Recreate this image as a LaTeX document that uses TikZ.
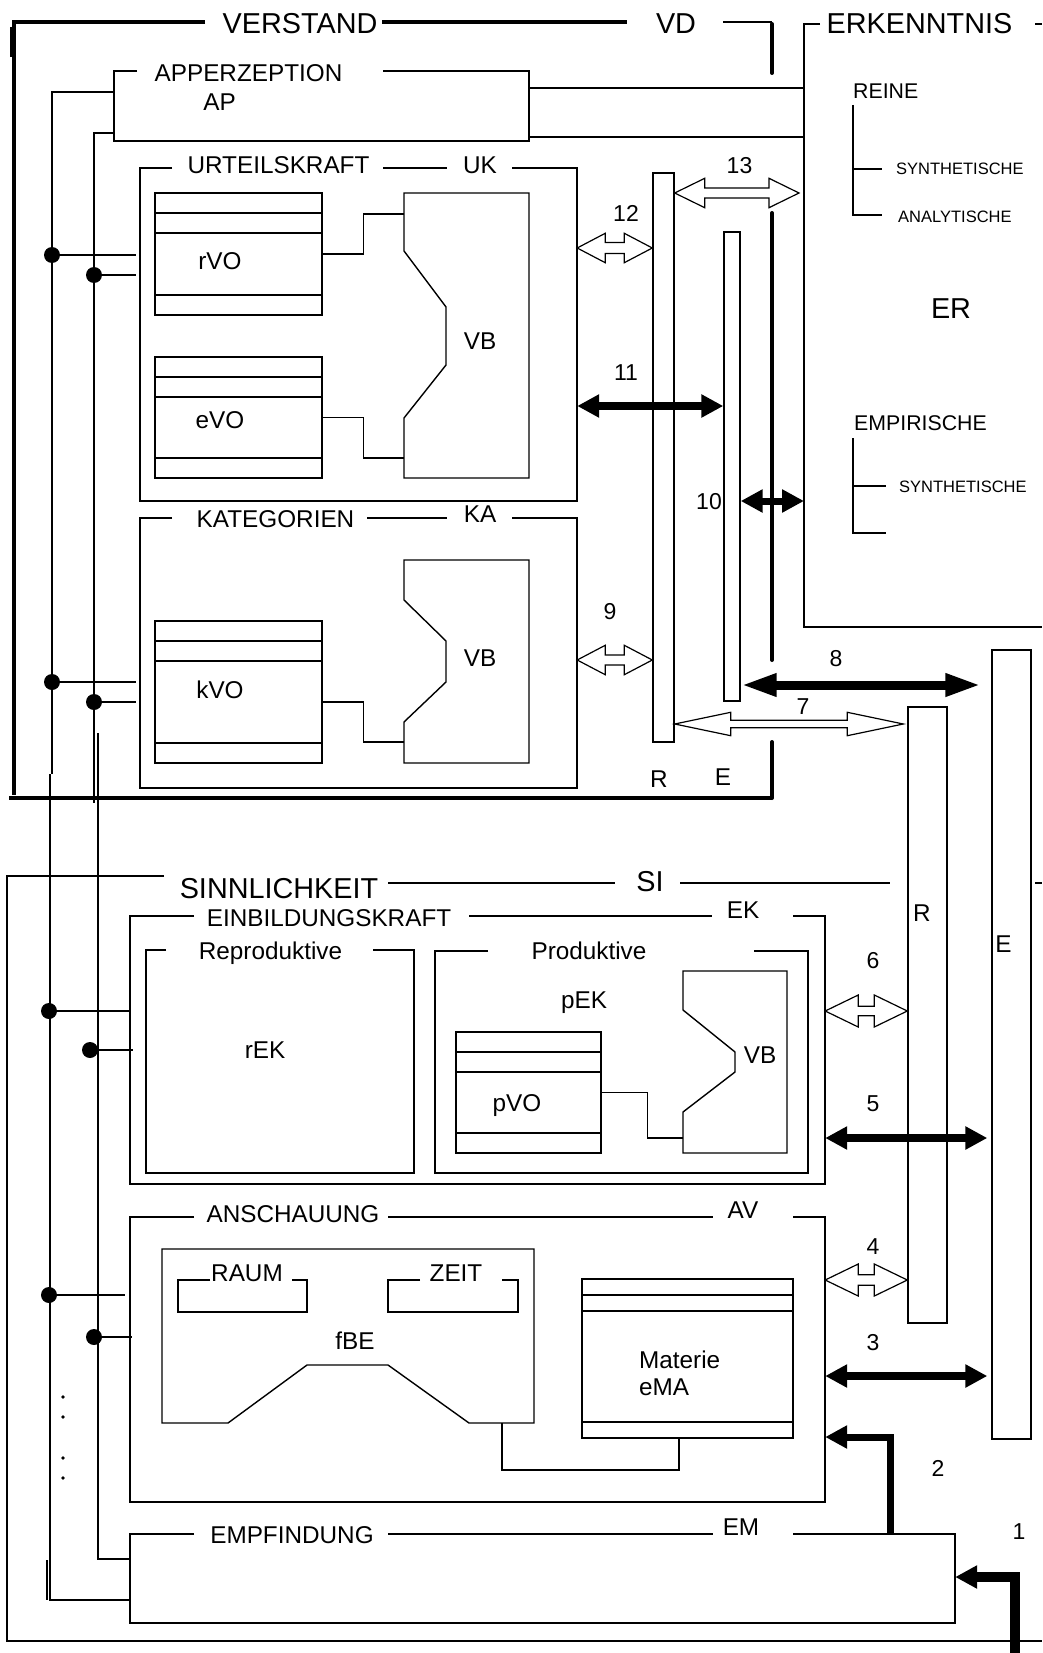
\documentclass[tikz,border=0pt]{standalone}
\usepackage{fontspec}
\setmainfont{Liberation Sans}
\usetikzlibrary{arrows.meta,fit,calc}

% VB block with its notch on the left side
\newcommand{\vbshape}[9]{%
	\draw[thinline] (#3,#2) -- (#1,#2) -- (#1,#5) -- (#9,#6) -- (#9,#7) -- (#1,#8) -- (#1,#4) -- (#3,#4) -- cycle;
}
% hollow double arrow: from, to, head length, head half width, shaft half width
\newcommand{\hollowarrow}[5]{%
	\draw[hollow] let \p1=(#1), \p2=(#2) in
	(\x1,\y1) -- (\x1+#3pt,\y1+#4pt) -- (\x1+#3pt,\y1+#5pt) -- (\x2-#3pt,\y1+#5pt)
	-- (\x2-#3pt,\y1+#4pt) -- (\x2,\y1) -- (\x2-#3pt,\y1-#4pt) -- (\x2-#3pt,\y1-#5pt)
	-- (\x1+#3pt,\y1-#5pt) -- (\x1+#3pt,\y1-#4pt) -- cycle;
}
% box with a gap in its top line for the title
\newcommand{\titledbox}[7]{%
	\node[fit={(#2,#3) (#4,#5)}, inner sep=0pt] (#1) {};
	\draw[thinline] (#6,#3) -- (#2,#3) -- (#2,#5) -- (#4,#5) -- (#4,#3) -- (#7,#3);
}

\begin{document}
\begin{tikzpicture}[
		x=1pt, y=-1pt,
		line join=miter,
		thinline/.style={line width=1.4pt},
		frame/.style={line width=4pt},
		stub/.style={line width=4pt, line cap=round},
		bar/.style={draw, line width=1.4pt, inner sep=0pt},
		hollow/.style={draw, fill=white, line width=1.2pt},
		vo/.style={draw, line width=1.4pt, inner sep=0pt, path picture={
				\draw[line width=1.4pt]
				([yshift=-#1pt]path picture bounding box.north west) -- ([yshift=-#1pt]path picture bounding box.north east)
				([yshift=-2*#1pt]path picture bounding box.north west) -- ([yshift=-2*#1pt]path picture bounding box.north east)
				([yshift=#1pt]path picture bounding box.south west) -- ([yshift=#1pt]path picture bounding box.south east);
		}},
		vo/.default=20,
		Head/.tip={Triangle[length=22pt, width=22pt]},
		LongHead/.tip={Triangle[length=36pt, width=21pt]},
		blk/.style={line width=#1},
		blk/.default=8pt,
		big/.style={font=\fontsize{28.8}{33}\selectfont, text height=20.6pt, text depth=0pt, inner sep=0pt},
		lab/.style={font=\fontsize{24.3}{28}\selectfont, text height=17.4pt, text depth=0pt, inner sep=0pt},
		num/.style={font=\fontsize{23}{27}\selectfont, text height=16.5pt, text depth=0pt, inner sep=0pt},
		mid/.style={font=\fontsize{21.3}{25}\selectfont, text height=15.2pt, text depth=0pt, inner sep=0pt},
		sml/.style={font=\fontsize{16.5}{20}\selectfont, text height=11.8pt, text depth=0pt, inner sep=0pt}
	]
	\useasboundingbox (0,0) rectangle (1042,1653);
	
	% Verstand frame
	\draw[frame] (205,22) -- (14,22) -- (14,795);
	\draw[frame] (382,22) -- (627,22);
	\draw[thinline] (723,22) -- (772,22);
	\draw[stub] (772,24) -- (772,73);
	\draw[stub] (772,213) -- (772,660);
	\draw[frame] (9,798) -- (772,798);
	\draw[stub] (772,798) -- (772,742);
	\draw[thinline] (11,27) -- (11,57);
	\node[big] (verstand) at (300,23) {VERSTAND};
	\node[big] (vd) at (676,23) {VD};
	
	% Erkenntnis frame
	\draw[thinline] (820,24) -- (804,24) -- (804,627) -- (1042,627);
	\draw[thinline] (1035,24) -- (1042,24);
	\coordinate (erkw) at (804,24);
	\node[big] (erkenntnis) at (919.5,23) {ERKENNTNIS};
	\node[mid, anchor=west] (reine) at (853,90.5) {REINE};
	\draw[thinline] (853,105) -- (853,215) -- (882,215);
	\draw[thinline] (853,169) -- (882,169);
	\node[sml, anchor=west] (syna) at (896,169) {SYNTHETISCHE};
	\node[sml, anchor=west] (ana) at (898,217) {ANALYTISCHE};
	\node[big] (er) at (951,308) {ER};
	\node[mid, anchor=west] (empir) at (854,423) {EMPIRISCHE};
	\draw[thinline] (853,438) -- (853,533) -- (886,533);
	\draw[thinline] (853,486) -- (886,486);
	\node[sml, anchor=west] (synb) at (899,487) {SYNTHETISCHE};
	
	% Apperzeption
	\titledbox{ap}{114}{71}{529}{141}{137}{383}
	\node[lab] (apperz) at (248.5,73) {APPERZEPTION};
	\node[lab] (apl) at (219.5,102) {AP};
	\draw[thinline] (ap.east |- 0,88) -- (erkw |- 0,88);
	\draw[thinline] (ap.east |- 0,137) -- (erkw |- 0,137);
	
	% Urteilskraft
	\titledbox{uk}{140}{168}{577}{501}{172}{512}
	\draw[thinline] (383,168) -- (447,168);
	\node[lab] (urteil) at (278.5,165) {URTEILSKRAFT};
	\node[lab] (ukl) at (480,165) {UK};
	\node[vo, fit={(155,193) (322,315)}] (rvo) {};
	\node[vo, fit={(155,357) (322,478)}] (evo) {};
	\node[lab] (rvol) at (220,261) {rVO};
	\node[lab] (evol) at (220,420) {eVO};
	\vbshape{404}{193}{529}{478}{251}{307}{365}{418}{446}
	\node[lab] (vba) at (480,341) {VB};
	\coordinate (vbain) at (404,214);
	\coordinate (vbaout) at (404,458);
	\draw[thinline] (rvo.east) -- ++(41,0) |- (vbain);
	\draw[thinline] (evo.east) -- ++(41,0) |- (vbaout);
	
	% Kategorien
	\titledbox{ka}{140}{518}{577}{788}{172}{512}
	\draw[thinline] (367,518) -- (447,518);
	\node[lab] (kateg) at (275.5,519) {KATEGORIEN};
	\node[lab] (kal) at (480,514) {KA};
	\node[vo, fit={(155,621) (322,763)}] (kvo) {};
	\node[lab] (kvol) at (220,690) {kVO};
	\vbshape{404}{560}{529}{763}{600}{641}{682}{722}{446}
	\node[lab] (vbb) at (480,658) {VB};
	\coordinate (vbbin) at (404,742);
	\draw[thinline] ([yshift=-10pt]kvo.east) -- ++(41,0) |- (vbbin);
	
	% R and E bars of the Verstand
	\node[bar, fit={(653,173) (674,742)}] (rsup) {};
	\node[bar, fit={(724,232) (740,701)}] (esup) {};
	\node[lab] (rl) at (659,779) {R};
	\node[lab] (el) at (723,777) {E};
	
	% Sinnlichkeit frame
	\draw[thinline] (164,876) -- (7,876) -- (7,1641) -- (1042,1641);
	\draw[thinline] (388,883) -- (615,883);
	\draw[thinline] (680,883) -- (890,883);
	\draw[thinline] (1035,883) -- (1042,883);
	\node[big] (sinnlich) at (279,888) {SINNLICHKEIT};
	\node[big] (si) at (650,881) {SI};
	
	% Einbildungskraft
	\titledbox{ek}{130}{916}{825}{1184}{194}{793}
	\draw[thinline] (469,916) -- (712,916);
	\node[lab] (einbild) at (329,918) {EINBILDUNGSKRAFT};
	\node[lab] (ekl) at (743,910) {EK};
	\titledbox{rep}{146}{950}{414}{1173}{166}{373}
	\node[lab] (reprod) at (270.5,951) {Reproduktive};
	\node[lab] (rek) at (265,1050) {rEK};
	\titledbox{prod}{435}{951}{808}{1173}{488}{754}
	\node[lab] (prodl) at (589,951) {Produktive};
	\node[lab] (pek) at (584,1000) {pEK};
	\node[vo, fit={(456,1032) (601,1153)}] (pvo) {};
	\node[lab] (pvol) at (517,1103) {pVO};
	\vbshape{683}{971}{787}{1153}{1010}{1052}{1072}{1112}{735}
	\node[lab] (vbc) at (760,1055) {VB};
	\coordinate (vbcin) at (683,1138);
	\draw[thinline] (pvo.east) -- ++(46,0) |- (vbcin);
	
	% Anschauung
	\titledbox{av}{130}{1217}{825}{1502}{194}{793}
	\draw[thinline] (388,1217) -- (713,1217);
	\node[lab] (anschau) at (293,1214) {ANSCHAUUNG};
	\node[lab] (avl) at (743,1210) {AV};
	\draw[thinline] (162,1249) -- (534,1249) -- (534,1423) -- (469,1423) -- (388,1365)
	-- (307,1365) -- (228,1423) -- (162,1423) -- cycle;
	\coordinate (fbeout) at (502,1423);
	\node[lab] (fbe) at (355,1341) {fBE};
	\draw[thinline] (210,1280) -- (178,1280) -- (178,1312) -- (307,1312) -- (307,1280) -- (292,1280);
	\draw[thinline] (420,1280) -- (388,1280) -- (388,1312) -- (518,1312) -- (518,1280) -- (502,1280);
	\node[lab] (raum) at (247,1273) {RAUM};
	\node[lab] (zeit) at (456,1273) {ZEIT};
	\node[vo=16, fit={(582,1279) (793,1438)}] (mat) {};
	\node[lab, anchor=west] (materie) at (639,1360) {Materie};
	\node[lab, anchor=west] (ema) at (639,1387) {eMA};
	\draw[thinline] (fbeout) -- ++(0,47) -| ([xshift=-8.5pt]mat.south);
	
	% Empfindung
	\titledbox{em}{130}{1534}{955}{1623}{194}{793}
	\draw[thinline] (388,1534) -- (713,1534);
	\node[lab] (empf) at (292,1535) {EMPFINDUNG};
	\node[lab] (eml) at (741,1527) {EM};
	
	% R and E bars of the Sinnlichkeit
	\node[bar, fit={(908,707) (947,1323)}] (rinf) {};
	\node[bar, fit={(992,650) (1031,1439)}] (einf) {};
	\node[lab] (rlow) at (922,913) {R};
	\node[lab] (elow) at (1003.5,944) {E};
	
	% Left bus lines
	\draw[thinline] (ap.west |- 0,92) -- (52,92) -- (52,774);
	\draw[thinline] (ap.west |- 0,133) -- (94,133) -- (94,803);
	\draw[thinline] (50,774) -- (50,1600) -- (em.west |- 0,1600);
	\draw[thinline] (98,733) -- (98,1559) -- (em.west |- 0,1559);
	\draw[thinline] (47,1560) -- (47,1600);
	\foreach \bx/\by/\ex in {52/255/136, 94/275/136, 52/682/136, 94/702/136,
		49/1011/130, 90/1050/133, 49/1295/125, 94/1337/132} {
		\draw[thinline] (\bx,\by) -- (\ex,\by);
		\fill (\bx,\by) circle (8pt);
	}
	\foreach \dy in {1397,1417,1458,1478} {
		\fill (63,\dy) circle (1.8pt);
	}
	
	% Exchanges 13 ... 7
	\hollowarrow{rsup.east |- 0,193}{[xshift=-5pt]erkw |- 0,193}{30}{14.7}{5}
	\hollowarrow{uk.east |- 0,248}{rsup.west |- 0,248}{28}{14.7}{5.5}
	\draw[blk, Head-Head] (uk.east |- 0,406) -- (esup.west |- 0,406);
	\draw[blk=7pt, Head-Head] (esup.east |- 0,501) -- (erkw |- 0,501);
	\hollowarrow{ka.east |- 0,660}{rsup.west |- 0,660}{28}{14.7}{5}
	\draw[blk=9pt, LongHead-LongHead] (esup.east |- 0,685) -- ([xshift=-10pt]einf.west |- 0,685);
	\hollowarrow{rsup.east |- 0,724}{[xshift=-4pt]rinf.west |- 0,724}{56}{11.7}{3.8}
	\node[num] (n13) at (739.5,165) {13};
	\node[num] (n12) at (626,213) {12};
	\node[num] (n11) at (626,372) {11};
	\node[num] (n10) at (709,501) {10};
	\node[num] (n9) at (610,611) {9};
	\node[num] (n8) at (836,658.5) {8};
	\node[num] (n7) at (803,706) {7};
	
	% Exchanges 6 ... 1
	\hollowarrow{ek.east |- 0,1011}{rinf.west |- 0,1011}{33}{16}{4.7}
	\draw[blk, Head-Head] (ek.east |- 0,1138) -- ([xshift=-4pt]einf.west |- 0,1138);
	\hollowarrow{av.east |- 0,1280}{rinf.west |- 0,1280}{33}{16}{5.3}
	\draw[blk, Head-Head] (av.east |- 0,1376) -- ([xshift=-4pt]einf.west |- 0,1376);
	\draw[blk=7pt, -Head] (em.north -| 890,0) |- (av.east |- 0,1437);
	\coordinate (sense) at (1015,1660);
	\draw[blk=10pt, -Head] (sense) |- (em.east |- 0,1577);
	\node[num] (n6) at (873,960.5) {6};
	\node[num] (n5) at (873,1103) {5};
	\node[num] (n4) at (873,1246) {4};
	\node[num] (n3) at (873,1342) {3};
	\node[num] (n2) at (938,1468) {2};
	\node[num] (n1) at (1019,1531) {1};
	
\end{tikzpicture}
\end{document}
